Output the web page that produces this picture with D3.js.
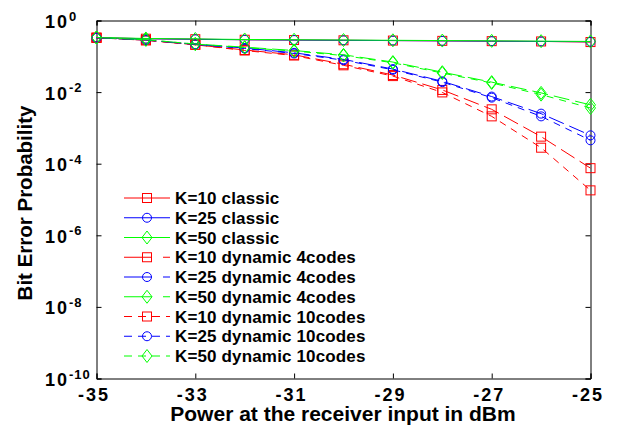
<!DOCTYPE html>
<html>
<head>
<meta charset="utf-8">
<script src="https://cdn.jsdelivr.net/npm/d3@7"></script>
<style>
  body { margin: 0; background: #fff; }
  svg { display: block; }
  text { font-family: 'Liberation Sans', Arial, sans-serif; font-weight: bold; fill: #000; }
</style>
</head>
<body>
<div class="svg-container"></div>
<script>
const power = [-35, -34, -33, -32, -31, -30, -29, -28, -27, -26, -25]

const k10Classic = [0.33, 0.31, 0.3, 0.29, 0.285, 0.28, 0.275, 0.27, 0.265, 0.26, 0.25]
const k25Classic = [0.33, 0.31, 0.3, 0.29, 0.285, 0.28, 0.275, 0.27, 0.265, 0.26, 0.255]
const k50Classic = [0.335, 0.315, 0.305, 0.295, 0.29, 0.285, 0.28, 0.275, 0.27, 0.265, 0.26]
const k10Dyn4 = [0.33, 0.28, 0.21, 0.15, 0.11, 0.06, 0.03, 0.0115, 0.0033, 0.00057, 0.000075]
const k25Dyn4 = [0.33, 0.285, 0.215, 0.17, 0.125, 0.082, 0.044, 0.02, 0.0075, 0.0025, 0.00062]
const k50Dyn4 = [0.335, 0.29, 0.22, 0.18, 0.145, 0.11, 0.069, 0.036, 0.019, 0.0095, 0.0044]
const k10Dyn10 = [0.33, 0.28, 0.21, 0.145, 0.105, 0.056, 0.028, 0.0098, 0.0021, 0.00028, 0.000018]
const k25Dyn10 = [0.33, 0.285, 0.215, 0.165, 0.12, 0.078, 0.042, 0.019, 0.007, 0.0021, 0.00045]
const k50Dyn10 = [0.335, 0.29, 0.22, 0.175, 0.14, 0.105, 0.066, 0.034, 0.018, 0.0085, 0.0036]

const xTicks = [-35, -33, -31, -29, -27, -25]
const yTicks = [0, -2, -4, -6, -8, -10]

const legendLabels = [
  'K=10 classic', 'K=25 classic', 'K=50 classic',
  'K=10 dynamic 4codes', 'K=25 dynamic 4codes', 'K=50 dynamic 4codes',
  'K=10 dynamic 10codes', 'K=25 dynamic 10codes', 'K=50 dynamic 10codes'
]
const seriesValues = [k10Classic, k25Classic, k50Classic, k10Dyn4, k25Dyn4, k50Dyn4, k10Dyn10, k25Dyn10, k50Dyn10]

const width = 621
const height = 426
const plotLeft = 96.5
const plotRight = 590.5
const plotTop = 20.5
const plotBottom = 378.5

const colors = ['#ff0000', '#0000ff', '#00ff00']
const markers = ['square', 'circle', 'diamond']
// line styles: classic, 4codes, 10codes
const dashes = [null, '16,6', '7,6']
const legendDashes = [null, '28,11', '8,6']

const series = seriesValues.map((values, i) => ({
  name: legendLabels[i],
  color: colors[i % 3],
  marker: markers[i % 3],
  dash: dashes[Math.floor(i / 3)],
  legendDash: legendDashes[Math.floor(i / 3)],
  points: values.map((v, j) => ({ x: power[j], y: v }))
}))

const svg = d3
  .select('.svg-container')
  .append('svg')
  .attr('width', width)
  .attr('height', height)

const xScale = d3.scaleLinear().domain([-35, -25]).range([plotLeft, plotRight])
const yScale = d3.scaleLog().domain([1e-10, 1]).range([plotBottom, plotTop])

// axes with inward ticks on all four sides
const xAxis = d3.axisBottom(xScale).tickValues(xTicks).tickSize(-5).tickPadding(10)
const xAxisTop = d3.axisTop(xScale).tickValues(xTicks).tickSize(-5).tickFormat('')
const yAxis = d3.axisLeft(yScale).tickValues(yTicks.map((e) => Math.pow(10, e))).tickSize(-5)
const yAxisRight = d3.axisRight(yScale).tickValues(yTicks.map((e) => Math.pow(10, e))).tickSize(-5).tickFormat('')

const gx = svg.append('g').attr('transform', 'translate(0,' + plotBottom + ')').call(xAxis)
svg.append('g').attr('transform', 'translate(0,' + plotTop + ')').call(xAxisTop)
const gy = svg.append('g').attr('transform', 'translate(' + plotLeft + ',0)').call(yAxis)
svg.append('g').attr('transform', 'translate(' + plotRight + ',0)').call(yAxisRight)

svg.selectAll('.domain').attr('stroke', '#000').attr('stroke-width', 1)
svg.selectAll('.tick line').attr('stroke', '#000')
svg.selectAll('g').attr('font-family', null)

gx.selectAll('.tick text')
  .attr('font-size', 18)
  .attr('letter-spacing', 2)
  .attr('dx', -3)
  .text((d) => (d < 0 ? '-' + Math.abs(d) : d))

// y labels are left aligned in the reference
gy.selectAll('.tick text').each(function (d) {
  const t = d3.select(this)
  const e = Math.round(Math.log10(d))
  t.text(null)
    .attr('font-size', 18)
    .attr('letter-spacing', 2)
    .attr('text-anchor', 'start')
    .attr('x', 45 - plotLeft)
    .attr('dy', '0.39em')
  t.append('tspan').text('10')
  t.append('tspan').attr('dy', -7.5).attr('font-size', 13).attr('letter-spacing', 1).text(e)
})

// curves
const line = d3
  .line()
  .x((d) => xScale(d.x))
  .y((d) => yScale(d.y))

function drawMarker(g, type, color) {
  if (type === 'square') {
    g.append('rect').attr('x', -4.5).attr('y', -4.5).attr('width', 9).attr('height', 9)
  } else if (type === 'circle') {
    g.append('circle').attr('r', 4.5)
  } else {
    g.append('path').attr('d', 'M0,-6.5L5,0L0,6.5L-5,0Z')
  }
  g.selectAll('*').attr('fill', 'none').attr('stroke', color).attr('stroke-width', 1)
}

series.forEach((s) => {
  svg
    .append('path')
    .datum(s.points)
    .attr('d', line)
    .attr('fill', 'none')
    .attr('stroke', s.color)
    .attr('stroke-width', 1)
    .attr('stroke-dasharray', s.dash)

  s.points.forEach((p) => {
    const g = svg.append('g').attr('transform', 'translate(' + xScale(p.x) + ',' + yScale(p.y) + ')')
    drawMarker(g, s.marker, s.color)
  })
})

// legend
const legend = svg.append('g').attr('transform', 'translate(124,198)')
series.forEach((s, i) => {
  const row = legend.append('g').attr('transform', 'translate(0,' + (i * 19.75) + ')')
  row
    .append('line')
    .attr('x1', 0)
    .attr('x2', 46)
    .attr('stroke', s.color)
    .attr('stroke-width', 1)
    .attr('stroke-dasharray', s.legendDash)
  drawMarker(row.append('g').attr('transform', 'translate(23,0)'), s.marker, s.color)
  row
    .append('text')
    .attr('x', 51)
    .attr('dy', '0.36em')
    .attr('font-size', 17)
    .attr('letter-spacing', 0.15)
    .text(s.name)
})

// axis titles
svg
  .append('text')
  .attr('x', 343)
  .attr('y', 421)
  .attr('text-anchor', 'middle')
  .attr('font-size', 21)
  .text('Power at the receiver input in dBm')

svg
  .append('text')
  .attr('transform', 'translate(32,203) rotate(-90)')
  .attr('text-anchor', 'middle')
  .attr('font-size', 20.5)
  .text('Bit Error Probability')
</script>
</body>
</html>
